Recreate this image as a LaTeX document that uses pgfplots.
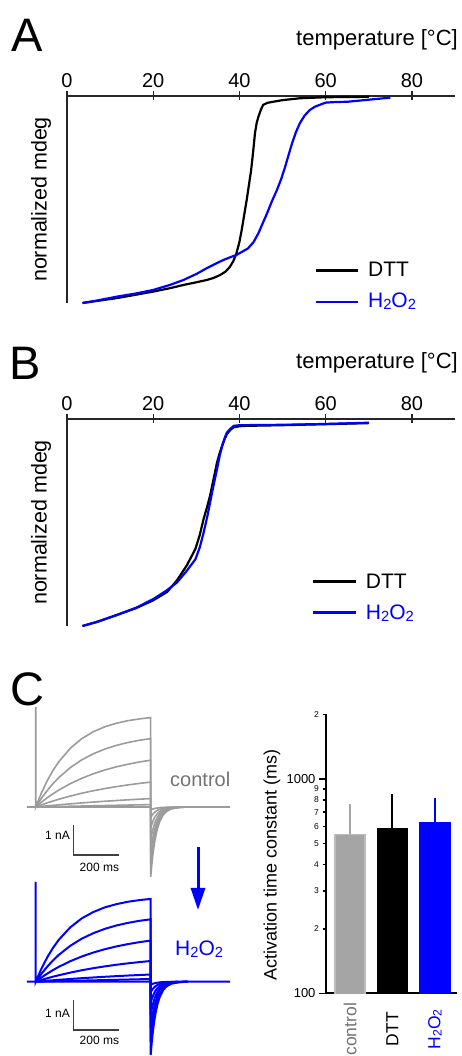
\documentclass[border=0pt]{standalone}
\usepackage{fontspec}
\setmainfont{Liberation Sans}
\usepackage{graphicx}
\usepackage{pgfplots}
\pgfplotsset{compat=1.18}
\usetikzlibrary{arrows.meta}
\definecolor{tgray}{RGB}{155,155,155}
\definecolor{lgray}{RGB}{115,115,115}
\definecolor{bgray}{RGB}{165,165,165}
\definecolor{bblue}{RGB}{0,0,255}
\newcommand{\sub}[1]{\raisebox{-0.08em}{\scalebox{0.7}{#1}}}
\pgfplotsset{
  tempaxis/.style={scale only axis, width=388pt, height=207pt,
    xmin=0, xmax=90, ymin=0, ymax=1,
    axis x line=top, axis y line=left,
    axis line style={-, line width=1.3pt, black!85},
    xtick={0,20,40,60,80}, ytick=\empty,
    xtick align=center, major tick length=9pt,
    tick style={line width=1.3pt, black!85},
    xticklabel style={font=\fontsize{20}{24}\selectfont},
    /pgf/number format/assume math mode=true,
    xlabel={temperature [°C]},
    xlabel style={at={(axis description cs:1.0077,1.246)}, anchor=base east, font=\fontsize{22}{26}\selectfont, inner sep=0pt},
    ylabel={normalized mdeg},
    ylabel style={at={(axis description cs:-0.067,0.5)}, anchor=center, font=\fontsize{21.5}{25}\selectfont, inner sep=0pt},
    clip=false},
  traceaxis/.style={scale only axis, width=203pt, height=180pt,
    xmin=-38, xmax=845, ymin=-2.5, ymax=3.5, hide axis, clip=false},
}
\begin{document}
\begin{tikzpicture}
%%%%%%%%%%%%%%%%%%%% Panel A
\begin{axis}[tempaxis, at={(67pt,960pt)}, anchor=north west]
\addplot[black, line width=2.2pt] table {
3.6 0.000
7 0.010
11.4 0.023
16 0.040
20 0.055
24 0.072
27 0.087
30 0.100
32.4 0.111
34 0.121
35.5 0.135
36.8 0.152
37.8 0.175
38.6 0.203
39.3 0.240
40.0 0.295
40.5 0.350
41.1 0.425
41.7 0.500
42.2 0.570
42.7 0.640
43.2 0.735
43.6 0.820
44.0 0.870
44.4 0.900
45.0 0.935
45.5 0.957
46.5 0.967
47.8 0.972
50 0.980
54 0.989
60 0.994
65 0.995
70 0.996
};
\addplot[bblue, line width=2.2pt] table {
3.6 0.000
7 0.012
11.4 0.030
16 0.046
20 0.063
24 0.088
27 0.111
30 0.140
32.4 0.168
34.5 0.190
36.3 0.208
38 0.222
39.3 0.232
41 0.252
42 0.264
43.3 0.295
44.4 0.337
45.4 0.385
46.4 0.433
47.5 0.490
48.7 0.546
49.7 0.600
50.6 0.658
51.4 0.715
52.2 0.771
53.1 0.825
54 0.868
55.1 0.905
56.3 0.932
57.5 0.948
58.6 0.957
60 0.968
62.5 0.971
65 0.972
68 0.978
71 0.984
73 0.988
75 0.992
};
\draw[black, line width=3pt] (axis cs:57.7,0.155) -- (axis cs:67.5,0.155);
\node[anchor=west, inner sep=0pt, font=\fontsize{21}{25}\selectfont] at (axis cs:69.8,0.164) {DTT};
\draw[bblue, line width=2pt] (axis cs:57.7,0.005) -- (axis cs:67.5,0.005);
\node[anchor=base west, inner sep=0pt, text=bblue, font=\fontsize{21}{25}\selectfont] at (axis cs:69.8,-0.024) {H\sub{2}O\sub{2}};
\end{axis}
%%%%%%%%%%%%%%%%%%%% Panel B
\begin{axis}[tempaxis, at={(67pt,637pt)}, anchor=north west]
\addplot[black, line width=2.2pt] table {
3.6 0.000
7 0.020
11.4 0.052
16 0.086
20 0.124
23.2 0.164
25.5 0.220
27.8 0.293
29.8 0.373
30.8 0.440
31.7 0.518
32.5 0.575
33.2 0.631
34.0 0.710
34.8 0.790
35.4 0.835
36.0 0.871
36.6 0.905
37.1 0.927
38.0 0.950
38.7 0.960
40 0.965
41.8 0.967
50 0.970
60 0.975
70 0.980
};
\addplot[bblue, line width=2.2pt] table {
3.6 0.000
7 0.020
11.4 0.052
16 0.088
20 0.130
23 0.170
25.5 0.210
27.8 0.267
29.8 0.323
30.8 0.380
31.7 0.452
32.5 0.525
33.2 0.597
34.0 0.680
34.8 0.758
35.4 0.820
36.0 0.871
36.6 0.910
37.1 0.935
38.0 0.955
38.7 0.967
40 0.970
50 0.972
60 0.976
70 0.982
};
\draw[black, line width=3pt] (axis cs:57.1,0.213) -- (axis cs:67.0,0.213);
\node[anchor=west, inner sep=0pt, font=\fontsize{21}{25}\selectfont] at (axis cs:69.3,0.217) {DTT};
\draw[bblue, line width=3pt] (axis cs:57.1,0.063) -- (axis cs:67.0,0.063);
\node[anchor=base west, inner sep=0pt, text=bblue, font=\fontsize{21}{25}\selectfont] at (axis cs:69.3,0.029) {H\sub{2}O\sub{2}};
\end{axis}
%%%%%%%%%%%%%%%%%%%% Panel C control traces
\begin{axis}[traceaxis, at={(27pt,354pt)}, anchor=north west]
\addplot[tgray, line width=1.6pt] coordinates {(-38,0) (0,0) (0,3.33) (0,0) (25,.474) (50,.876) (75,1.216) (100,1.505) (150,1.955) (200,2.277) (250,2.506) (300,2.673) (350,2.789) (400,2.876) (450,2.935) (500,2.98) (500,-2.33) (505,-1.908) (510,-1.561) (515,-1.279) (520,-1.046) (530,-.701) (540,-.471) (555,-.259) (570,-.142) (590,-.063) (620,-.019) (660,0) (845,0)};
\addplot[tgray, line width=1.6pt] coordinates {(0,0) (25,.292) (50,.549) (75,.777) (100,.978) (150,1.311) (200,1.571) (250,1.772) (300,1.929) (350,2.052) (400,2.148) (450,2.223) (500,2.28) (500,-1.9) (505,-1.556) (510,-1.273) (515,-1.043) (520,-.853) (530,-.572) (540,-.384) (555,-.211) (570,-.116) (590,-.051) (620,-.016) (660,0)};
\addplot[tgray, line width=1.6pt] coordinates {(0,0) (25,.161) (50,.306) (75,.440) (100,.563) (150,.777) (200,.956) (250,1.106) (300,1.232) (350,1.337) (400,1.424) (450,1.499) (500,1.56) (500,-1.5) (505,-1.229) (510,-1.005) (515,-.824) (520,-.674) (530,-.452) (540,-.303) (555,-.167) (570,-.092) (590,-.041) (620,-.012) (660,0)};
\addplot[tgray, line width=1.6pt] coordinates {(0,0) (25,.071) (50,.137) (75,.199) (100,.257) (150,.364) (200,.458) (250,.541) (300,.613) (350,.678) (400,.735) (450,.785) (500,.83) (500,-1.1) (505,-.901) (510,-.737) (515,-.604) (520,-.494) (530,-.331) (540,-.222) (555,-.122) (570,-.067) (590,-.030) (620,-.009) (660,0)};
\addplot[tgray, line width=1.6pt] coordinates {(0,0) (100,.073) (200,.136) (300,.191) (400,.239) (500,.28) (500,-.7) (505,-.573) (510,-.469) (515,-.384) (520,-.314) (530,-.211) (540,-.141) (555,-.078) (570,-.043) (590,-.019) (620,-.006) (660,0)};
\addplot[tgray, line width=1.6pt] coordinates {(0,0) (500,.08) (500,-.35) (505,-.287) (510,-.235) (515,-.192) (520,-.157) (530,-.105) (540,-.071) (555,-.039) (570,-.021) (590,-.009) (620,-.003) (660,0)};
\addplot[tgray, line width=1.6pt] coordinates {(0,0) (500,0) (500,-.1) (505,-.082) (510,-.067) (520,-.045) (540,-.020) (570,-.006) (620,0)};
\draw[line width=1.3pt, black!75] (axis cs:163,-0.6) -- (axis cs:163,-1.6) -- (axis cs:363,-1.6);
\node[anchor=base east, inner sep=0pt, font=\fontsize{12}{14}\selectfont] at (axis cs:149,-1.1) {1 nA};
\node[anchor=base, inner sep=0pt, font=\fontsize{12}{14}\selectfont] at (axis cs:277,-2.16) {200 ms};
\end{axis}
%%%%%%%%%%%%%%%%%%%% Panel C H2O2 traces
\begin{axis}[traceaxis, at={(27pt,179.3pt)}, anchor=north west]
\addplot[bblue, line width=2pt] coordinates {(-38,0) (0,0) (0,3.33) (0,0) (25,.439) (50,.811) (75,1.126) (100,1.394) (150,1.811) (200,2.109) (250,2.321) (300,2.476) (350,2.583) (400,2.663) (450,2.719) (500,2.76) (500,-2.44) (505,-1.998) (510,-1.635) (515,-1.340) (520,-1.096) (530,-.734) (540,-.493) (555,-.271) (570,-.149) (590,-.066) (620,-.020) (660,0) (845,0)};
\addplot[bblue, line width=2pt] coordinates {(0,0) (25,.266) (50,.501) (75,.709) (100,.892) (150,1.196) (200,1.433) (250,1.616) (300,1.760) (350,1.872) (400,1.959) (450,2.028) (500,2.08) (500,-2.0) (505,-1.638) (510,-1.340) (515,-1.098) (520,-.898) (530,-.602) (540,-.404) (555,-.222) (570,-.122) (590,-.054) (620,-.016) (660,0)};
\addplot[bblue, line width=2pt] coordinates {(0,0) (25,.141) (50,.269) (75,.386) (100,.495) (150,.682) (200,.840) (250,.971) (300,1.082) (350,1.174) (400,1.251) (450,1.317) (500,1.37) (500,-1.55) (505,-1.269) (510,-1.039) (515,-.851) (520,-.696) (530,-.467) (540,-.313) (555,-.172) (570,-.095) (590,-.042) (620,-.013) (660,0)};
\addplot[bblue, line width=2pt] coordinates {(0,0) (25,.059) (50,.114) (75,.166) (100,.214) (150,.302) (200,.381) (250,.450) (300,.510) (350,.564) (400,.611) (450,.653) (500,.69) (500,-1.1) (505,-.901) (510,-.737) (515,-.604) (520,-.494) (530,-.331) (540,-.222) (555,-.122) (570,-.067) (590,-.030) (620,-.009) (660,0)};
\addplot[bblue, line width=2pt] coordinates {(0,0) (100,.063) (200,.117) (300,.164) (400,.205) (500,.24) (500,-.7) (505,-.573) (510,-.469) (515,-.384) (520,-.314) (530,-.211) (540,-.141) (555,-.078) (570,-.043) (590,-.019) (620,-.006) (660,0)};
\addplot[bblue, line width=2pt] coordinates {(0,0) (500,.09) (500,-.35) (505,-.287) (510,-.235) (515,-.192) (520,-.157) (530,-.105) (540,-.071) (555,-.039) (570,-.021) (590,-.009) (620,-.003) (660,0)};
\addplot[bblue, line width=2pt] coordinates {(0,0) (500,0) (500,-.1) (505,-.082) (510,-.067) (520,-.045) (540,-.020) (570,-.006) (620,0)};
\draw[line width=1.3pt, black!75] (axis cs:163,-0.61) -- (axis cs:163,-1.61) -- (axis cs:363,-1.61);
\node[anchor=base east, inner sep=0pt, font=\fontsize{12}{14}\selectfont] at (axis cs:149,-1.18) {1 nA};
\node[anchor=base, inner sep=0pt, font=\fontsize{12}{14}\selectfont] at (axis cs:277,-2.11) {200 ms};
\end{axis}
%%%%%%%%%%%%%%%%%%%% Panel C bar chart
\begin{axis}[at={(326pt,341.5pt)}, anchor=north west, scale only axis,
  width=131pt, height=278.8pt,
  ymode=log, ymin=100, ymax=2000, xmin=-0.565, xmax=2.52,
  axis x line=bottom, axis y line=left,
  axis line style={-, line width=2.2pt},
  xtick={0,1,2},
  xticklabels={\textcolor{lgray}{control}, DTT, \textcolor{bblue}{H\sub{2}O\sub{2}}},
  x tick style={draw=none},
  xticklabel style={anchor=center, yshift=-29pt, rotate=90, font=\fontsize{17.5}{20}\selectfont},
  ytick={100,1000}, yticklabels={100,1000},
  minor ytick={},
  extra y ticks={200,300,400,500,600,700,800,900,2000},
  extra y tick labels={2,3,4,5,6,7,8,9,2},
  extra y tick style={major tick length=3.5pt, yticklabel style={font=\fontsize{8.5}{9}\selectfont}},
  tick align=outside, major tick length=7pt,
  y tick style={line width=1.5pt, black},
  yticklabel style={font=\fontsize{13}{14}\selectfont},
  ylabel={Activation time constant (ms)},
  ylabel style={at={(axis description cs:-0.412,0.46)}, anchor=center, font=\fontsize{18}{20}\selectfont, inner sep=0pt},
]
\addplot[ybar, bar width=30pt, bar shift=0pt, fill=bgray, draw=bgray!75!white, line width=1.2pt,
  error bars/.cd, y dir=plus, y explicit,
  error bar style={line width=2pt, color=bgray},
  error mark options={line width=2pt, mark size=1.5pt, color=bgray}]
  coordinates {(0,552) +- (0,202)};
\addplot[ybar, bar width=30pt, bar shift=0pt, fill=black, draw=black, line width=1.2pt,
  error bars/.cd, y dir=plus, y explicit,
  error bar style={line width=2pt, color=black},
  error mark options={line width=2pt, mark size=1.5pt, color=black}]
  coordinates {(1,589) +- (0,247)};
\addplot[ybar, bar width=30pt, bar shift=0pt, fill=bblue, draw=bblue, line width=1.2pt,
  error bars/.cd, y dir=plus, y explicit,
  error bar style={line width=2pt, color=bblue},
  error mark options={line width=2pt, mark size=1.5pt, color=bblue}]
  coordinates {(2,625) +- (0,179)};
\end{axis}
%%%%%%%%%%%%%%%%%%%% annotations
\draw[bblue, line width=3pt, -{Triangle[length=22pt, width=14pt]}] (198pt,209pt) -- (198pt,146pt);
\node[anchor=base west, inner sep=0pt, text=lgray, font=\fontsize{20}{24}\selectfont] at (170pt,269pt) {control};
\node[anchor=base west, inner sep=0pt, text=bblue, font=\fontsize{21}{25}\selectfont] at (175pt,100pt) {H\sub{2}O\sub{2}};
\node[anchor=base west, inner sep=0pt, font=\fontsize{47}{50}\selectfont] at (11pt,1004pt) {A};
\node[anchor=base west, inner sep=0pt, font=\fontsize{47}{50}\selectfont] at (9.5pt,676pt) {B};
\node[anchor=base west, inner sep=0pt, font=\fontsize{47}{50}\selectfont] at (10pt,350pt) {C};
\pgfresetboundingbox
\path[use as bounding box] (0pt,0pt) rectangle (461pt,1056pt);
\end{tikzpicture}
\end{document}
